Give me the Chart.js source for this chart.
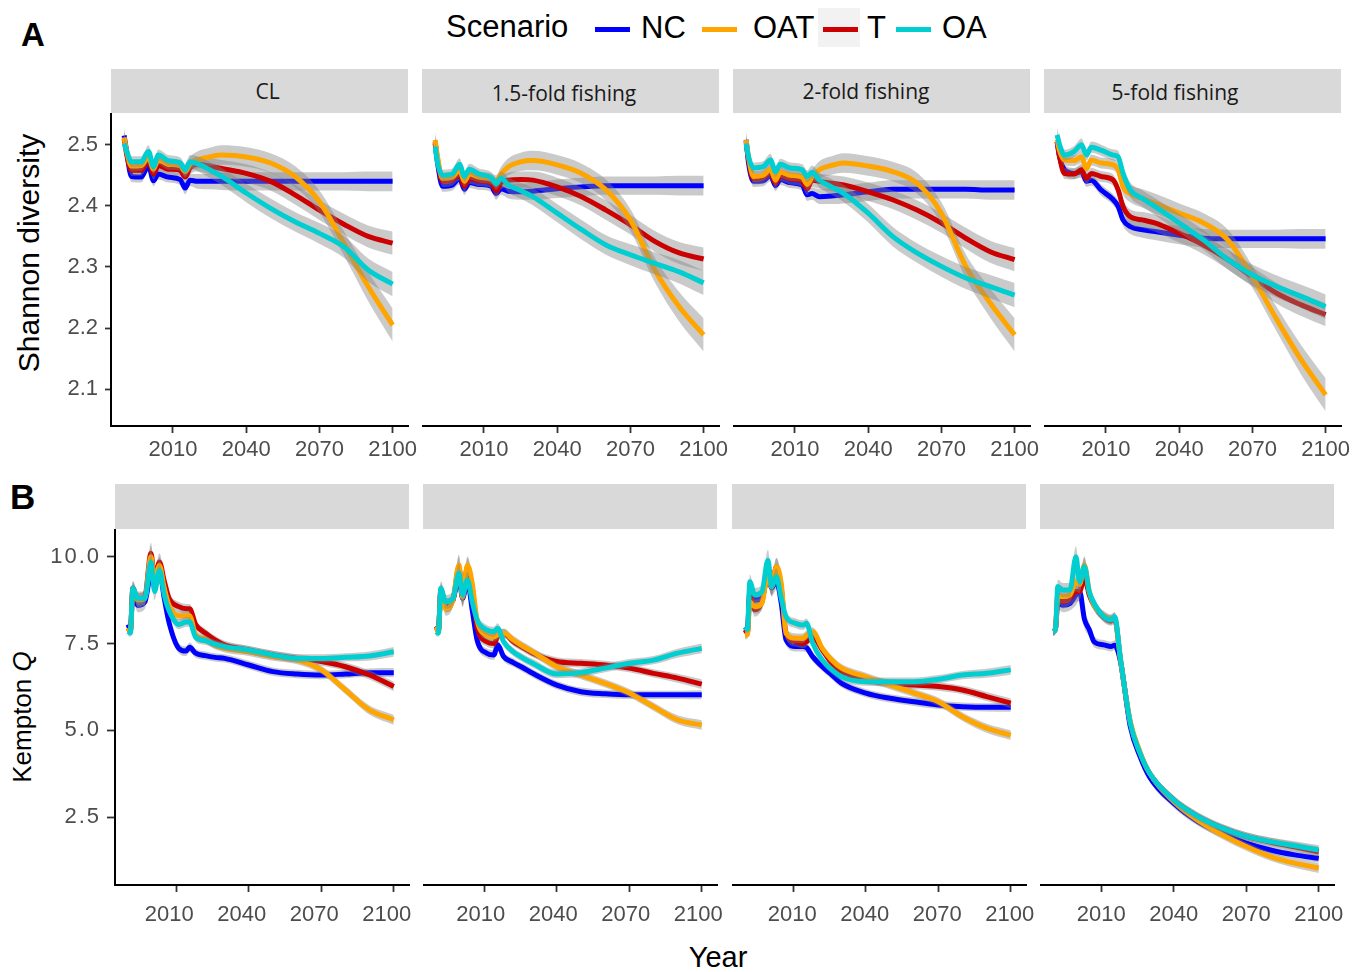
<!DOCTYPE html>
<html>
<head>
<meta charset="utf-8">
<script src="https://cdn.jsdelivr.net/npm/chart.js@4.4.1/dist/chart.umd.min.js"></script>
<style>
html,body{margin:0;padding:0;background:#fff;}
body{position:relative;width:1364px;height:972px;overflow:hidden;font-family:"Liberation Sans",Arial,sans-serif;}
.t{position:absolute;white-space:nowrap;line-height:1;}
.strip{position:absolute;background:#D9D9D9;}
.key{position:absolute;height:5px;}
canvas{position:absolute;}
</style>
</head>
<body>
<script>
// ================= DATA =================
const scenarios = ['NC', 'OAT', 'T', 'OA'];
const fishingLevels = ['CL', '1.5-fold fishing', '2-fold fishing', '5-fold fishing'];
const xTickYears = [2010, 2040, 2070, 2100];
const shannonTicks = [2.1, 2.2, 2.3, 2.4, 2.5];
const kemptonTicks = [2.5, 5.0, 7.5, 10.0];

// Shannon diversity (row A) sample years
const yearsA = [1990, 1991, 1993, 1997, 2000, 2002, 2004, 2008, 2013, 2015, 2017, 2020, 2025, 2030, 2040, 2050, 2060, 2070, 2080, 2090, 2100];
const shannonCL_NC  = [2.515, 2.490, 2.448, 2.447, 2.466, 2.441, 2.452, 2.447, 2.443, 2.429, 2.442, 2.440, 2.440, 2.440, 2.440, 2.440, 2.440, 2.440, 2.440, 2.440, 2.440];
const shannonCL_OAT = [2.512, 2.490, 2.465, 2.466, 2.480, 2.460, 2.476, 2.468, 2.466, 2.456, 2.468, 2.475, 2.480, 2.483, 2.480, 2.470, 2.448, 2.407, 2.339, 2.268, 2.205];
const shannonCL_T   = [2.510, 2.485, 2.458, 2.458, 2.475, 2.452, 2.466, 2.460, 2.458, 2.447, 2.462, 2.468, 2.465, 2.461, 2.453, 2.440, 2.418, 2.393, 2.370, 2.350, 2.339];
const shannonCL_OA  = [2.502, 2.490, 2.472, 2.472, 2.489, 2.464, 2.483, 2.474, 2.470, 2.459, 2.472, 2.469, 2.459, 2.448, 2.421, 2.396, 2.374, 2.355, 2.333, 2.295, 2.272];

const shannon15_NC  = [2.502, 2.470, 2.432, 2.434, 2.445, 2.427, 2.438, 2.435, 2.432, 2.420, 2.428, 2.424, 2.423, 2.424, 2.428, 2.431, 2.433, 2.433, 2.433, 2.433, 2.433];
const shannon15_OAT = [2.508, 2.480, 2.445, 2.447, 2.458, 2.440, 2.452, 2.447, 2.444, 2.440, 2.452, 2.464, 2.472, 2.474, 2.467, 2.453, 2.426, 2.377, 2.295, 2.235, 2.189];
const shannon15_T   = [2.505, 2.475, 2.440, 2.442, 2.452, 2.432, 2.445, 2.441, 2.438, 2.424, 2.438, 2.442, 2.443, 2.442, 2.431, 2.415, 2.393, 2.369, 2.342, 2.323, 2.313];
const shannon15_OA  = [2.497, 2.470, 2.450, 2.452, 2.468, 2.448, 2.460, 2.452, 2.446, 2.436, 2.445, 2.434, 2.425, 2.415, 2.388, 2.361, 2.336, 2.320, 2.306, 2.292, 2.274];

const shannon2_NC   = [2.508, 2.470, 2.440, 2.441, 2.450, 2.433, 2.443, 2.438, 2.434, 2.418, 2.420, 2.415, 2.416, 2.418, 2.423, 2.427, 2.427, 2.427, 2.427, 2.426, 2.426];
const shannon2_OAT  = [2.508, 2.480, 2.448, 2.450, 2.460, 2.442, 2.455, 2.450, 2.447, 2.435, 2.447, 2.459, 2.466, 2.470, 2.465, 2.456, 2.437, 2.388, 2.301, 2.241, 2.189];
const shannon2_T    = [2.505, 2.475, 2.444, 2.446, 2.455, 2.437, 2.449, 2.444, 2.440, 2.428, 2.442, 2.440, 2.437, 2.434, 2.423, 2.410, 2.393, 2.372, 2.347, 2.325, 2.312];
const shannon2_OA   = [2.502, 2.480, 2.462, 2.464, 2.475, 2.456, 2.468, 2.462, 2.459, 2.448, 2.455, 2.442, 2.431, 2.420, 2.388, 2.350, 2.323, 2.301, 2.282, 2.268, 2.254];

const shannon5_NC   = [2.505, 2.480, 2.459, 2.453, 2.456, 2.440, 2.442, 2.426, 2.410, 2.399, 2.377, 2.366, 2.361, 2.358, 2.352, 2.347, 2.346, 2.346, 2.346, 2.346, 2.346];
const shannon5_OAT  = [2.508, 2.490, 2.475, 2.474, 2.480, 2.461, 2.475, 2.470, 2.467, 2.459, 2.431, 2.420, 2.412, 2.404, 2.388, 2.372, 2.344, 2.284, 2.214, 2.148, 2.091];
const shannon5_T    = [2.505, 2.480, 2.453, 2.452, 2.459, 2.445, 2.453, 2.448, 2.442, 2.426, 2.399, 2.382, 2.377, 2.372, 2.355, 2.336, 2.312, 2.284, 2.257, 2.238, 2.222];
const shannon5_OA   = [2.516, 2.500, 2.483, 2.489, 2.500, 2.483, 2.496, 2.491, 2.483, 2.480, 2.453, 2.426, 2.412, 2.399, 2.372, 2.344, 2.312, 2.287, 2.268, 2.252, 2.235];

// ribbon half-widths, row A
const bandA_NC  = [0.012, 0.010, 0.009, 0.009, 0.010, 0.009, 0.009, 0.009, 0.009, 0.010, 0.010, 0.012, 0.013, 0.014, 0.015, 0.015, 0.015, 0.015, 0.015, 0.016, 0.016];
const bandA_OAT = [0.012, 0.010, 0.009, 0.009, 0.010, 0.009, 0.009, 0.009, 0.009, 0.010, 0.012, 0.014, 0.015, 0.016, 0.016, 0.016, 0.017, 0.018, 0.020, 0.024, 0.027];
const bandA_T   = [0.012, 0.010, 0.009, 0.009, 0.010, 0.009, 0.009, 0.009, 0.009, 0.010, 0.011, 0.012, 0.013, 0.014, 0.015, 0.015, 0.016, 0.016, 0.017, 0.018, 0.019];
const bandA_OA  = [0.012, 0.010, 0.009, 0.009, 0.010, 0.009, 0.009, 0.009, 0.009, 0.010, 0.011, 0.012, 0.013, 0.014, 0.015, 0.016, 0.016, 0.017, 0.018, 0.019, 0.020];

// Kempton Q (row B) sample years
const yearsB = [1990, 1991, 1992, 1994, 1997, 1999.5, 2001, 2003, 2005, 2007, 2011, 2014, 2015.5, 2018, 2022, 2026, 2030, 2040, 2050, 2060, 2070, 2080, 2090, 2100];
const kemptonCL_NC  = [8.05, 7.90, 9.00, 8.60, 8.70, 9.50, 9.20, 9.60, 8.80, 8.10, 7.36, 7.28, 7.39, 7.22, 7.15, 7.10, 7.07, 6.88, 6.69, 6.62, 6.59, 6.62, 6.66, 6.66];
const kemptonCL_OAT = [7.95, 7.85, 9.05, 8.75, 8.80, 10.00, 9.30, 9.75, 9.10, 8.60, 8.30, 8.30, 8.30, 7.75, 7.62, 7.45, 7.36, 7.26, 7.12, 7.02, 6.74, 6.16, 5.58, 5.30];
const kemptonCL_T   = [7.95, 7.85, 9.10, 8.75, 8.85, 10.10, 9.35, 9.85, 9.30, 8.80, 8.56, 8.50, 8.50, 8.05, 7.80, 7.60, 7.46, 7.31, 7.17, 7.07, 6.98, 6.83, 6.59, 6.26];
const kemptonCL_OA  = [7.85, 7.80, 9.10, 8.80, 8.80, 9.85, 9.00, 9.60, 8.90, 8.45, 8.05, 8.12, 8.12, 7.68, 7.58, 7.48, 7.41, 7.31, 7.17, 7.07, 7.07, 7.10, 7.14, 7.26];

const kempton15_NC  = [8.00, 7.90, 9.00, 8.60, 8.75, 9.40, 8.80, 9.30, 8.46, 7.60, 7.22, 7.17, 7.46, 7.12, 6.95, 6.80, 6.64, 6.30, 6.11, 6.05, 6.02, 6.02, 6.02, 6.02];
const kempton15_OAT = [7.98, 7.85, 9.00, 8.50, 8.75, 9.76, 8.83, 9.76, 9.23, 8.18, 7.74, 7.69, 7.75, 7.80, 7.60, 7.42, 7.26, 6.83, 6.59, 6.35, 6.07, 5.68, 5.30, 5.15];
const kempton15_T   = [7.98, 7.85, 9.05, 8.60, 8.75, 9.70, 8.83, 9.70, 9.10, 7.98, 7.55, 7.50, 7.70, 7.79, 7.55, 7.38, 7.22, 6.98, 6.93, 6.88, 6.79, 6.64, 6.50, 6.33];
const kempton15_OA  = [7.84, 7.80, 9.09, 8.70, 8.80, 9.52, 8.90, 9.33, 8.70, 8.18, 7.89, 7.84, 7.94, 7.55, 7.26, 7.08, 6.93, 6.62, 6.66, 6.79, 6.93, 7.02, 7.22, 7.36];

const kempton2_NC   = [7.98, 7.90, 9.00, 8.75, 8.80, 9.50, 9.10, 9.30, 8.66, 7.60, 7.41, 7.41, 7.38, 7.12, 6.83, 6.59, 6.35, 6.07, 5.92, 5.82, 5.73, 5.68, 5.66, 5.66];
const kempton2_OAT  = [7.74, 7.75, 8.70, 8.56, 8.66, 9.50, 9.14, 9.71, 9.23, 7.79, 7.65, 7.65, 7.74, 7.84, 7.36, 7.02, 6.79, 6.54, 6.30, 6.07, 5.82, 5.39, 5.06, 4.86];
const kempton2_T    = [7.90, 7.80, 8.90, 8.47, 8.70, 9.50, 9.14, 9.71, 9.10, 7.79, 7.55, 7.50, 7.55, 7.70, 7.31, 6.93, 6.69, 6.45, 6.35, 6.30, 6.26, 6.16, 5.97, 5.78];
const kempton2_OA   = [7.98, 7.90, 9.28, 8.90, 8.99, 9.90, 9.14, 9.42, 8.80, 8.27, 8.08, 8.03, 8.08, 7.51, 7.02, 6.74, 6.54, 6.40, 6.40, 6.40, 6.47, 6.59, 6.64, 6.74];

const kempton5_NC   = [7.85, 7.90, 8.70, 8.60, 8.65, 8.90, 9.00, 8.20, 7.90, 7.55, 7.46, 7.41, 7.45, 6.95, 5.10, 4.25, 3.65, 2.89, 2.37, 2.03, 1.75, 1.55, 1.41, 1.31];
const kempton5_OAT  = [7.85, 7.90, 8.85, 8.85, 8.90, 9.30, 9.20, 9.76, 9.00, 8.60, 8.30, 8.20, 8.25, 7.00, 5.25, 4.38, 3.76, 2.95, 2.40, 1.99, 1.65, 1.36, 1.17, 1.03];
const kempton5_T    = [7.85, 7.90, 8.90, 8.70, 8.80, 9.00, 9.00, 9.40, 8.90, 8.60, 8.25, 8.15, 8.20, 7.00, 5.20, 4.34, 3.76, 2.99, 2.51, 2.18, 1.94, 1.78, 1.64, 1.50];
const kempton5_OA   = [7.84, 7.90, 9.14, 9.04, 9.04, 10.00, 9.28, 9.71, 8.99, 8.66, 8.27, 8.18, 8.27, 7.02, 5.20, 4.34, 3.76, 2.99, 2.51, 2.18, 1.94, 1.79, 1.67, 1.55];

// ribbon half-widths, row B
const bandB_NC  = [0.12, 0.12, 0.20, 0.20, 0.20, 0.30, 0.25, 0.25, 0.20, 0.16, 0.14, 0.14, 0.14, 0.13, 0.12, 0.12, 0.12, 0.12, 0.12, 0.12, 0.12, 0.12, 0.12, 0.13];
const bandB_OAT = [0.12, 0.12, 0.20, 0.20, 0.20, 0.30, 0.25, 0.25, 0.20, 0.16, 0.14, 0.14, 0.14, 0.13, 0.12, 0.12, 0.12, 0.12, 0.12, 0.12, 0.12, 0.12, 0.13, 0.14];
const bandB_T   = [0.12, 0.12, 0.20, 0.20, 0.20, 0.30, 0.25, 0.25, 0.20, 0.16, 0.14, 0.14, 0.14, 0.13, 0.12, 0.12, 0.12, 0.12, 0.12, 0.12, 0.12, 0.12, 0.13, 0.14];
const bandB_OA  = [0.12, 0.12, 0.20, 0.20, 0.20, 0.30, 0.25, 0.25, 0.20, 0.16, 0.14, 0.14, 0.14, 0.13, 0.12, 0.12, 0.12, 0.12, 0.12, 0.12, 0.12, 0.12, 0.13, 0.14];

// ================= STYLE / LAYOUT =================
const COLORS = {NC: '#0000FF', OAT: '#FFA500', T: '#CC0000', OA: '#00CED1'};
const RIBBON = 'rgba(128,128,128,0.42)';
const DRAW_ORDER = ['NC', 'T', 'OAT', 'OA']; // bottom -> top
const X_MIN = 1984.62, X_MAX = 2106.3;

const rowA = {
  years: yearsA,
  panels: [
    {NC: shannonCL_NC, OAT: shannonCL_OAT, T: shannonCL_T, OA: shannonCL_OA},
    {NC: shannon15_NC, OAT: shannon15_OAT, T: shannon15_T, OA: shannon15_OA},
    {NC: shannon2_NC,  OAT: shannon2_OAT,  T: shannon2_T,  OA: shannon2_OA},
    {NC: shannon5_NC,  OAT: shannon5_OAT,  T: shannon5_T,  OA: shannon5_OA}
  ],
  bands: {NC: bandA_NC, OAT: bandA_OAT, T: bandA_T, OA: bandA_OA},
  yMin: 2.040, yMax: 2.5518, yTicks: shannonTicks, fmt: v => v.toFixed(1),
  top: 113, height: 313, lefts: [111, 422, 733, 1044], width: 297,
  leftPad: 52, bottomPad: 42, xPad: 4, yTickLen: 6, yPad: 7,
  labelOffsets: [0, 0, 0, 0], ls: null,
  stripTop: 69, stripH: 44, stripL: [111, 422, 733, 1044], stripW: [297, 297, 297, 297]
};
const rowB = {
  years: yearsB,
  panels: [
    {NC: kemptonCL_NC, OAT: kemptonCL_OAT, T: kemptonCL_T, OA: kemptonCL_OA},
    {NC: kempton15_NC, OAT: kempton15_OAT, T: kempton15_T, OA: kempton15_OA},
    {NC: kempton2_NC,  OAT: kempton2_OAT,  T: kempton2_T,  OA: kempton2_OA},
    {NC: kempton5_NC,  OAT: kempton5_OAT,  T: kempton5_T,  OA: kempton5_OA}
  ],
  bands: {NC: bandB_NC, OAT: bandB_OAT, T: bandB_T, OA: bandB_OA},
  yMin: 0.5415, yMax: 10.798, yTicks: kemptonTicks, fmt: v => v.toFixed(1),
  top: 529, height: 356, lefts: [115, 423, 732, 1040], width: 294,
  leftPad: 72, bottomPad: 48, xPad: 10, yTickLen: 8, yPad: 6,
  labelOffsets: [-7, -3.5, -1, 0], ls: '2px',
  stripTop: 484, stripH: 45, stripL: [115, 423, 732, 1040], stripW: [294, 294, 294, 294]
};

const spacingPlugin = {
  id: 'ySpacing',
  beforeDraw(chart, args, opts) { if (opts && opts.ls) chart.ctx.letterSpacing = opts.ls; },
  beforeDatasetsDraw(chart) { chart.ctx.letterSpacing = '0px'; }
};

function addDiv(cls, style, html) {
  const d = document.createElement('div');
  d.className = cls;
  d.setAttribute('style', style);
  if (html !== undefined) d.innerHTML = html;
  document.body.appendChild(d);
  return d;
}

function makePanel(row, p) {
  const showY = p === 0;
  const leftPad = showY ? row.leftPad : 0;
  const rightPad = 16;
  const cw = row.width + leftPad + rightPad;
  const ch = row.height + row.bottomPad;
  const cv = document.createElement('canvas');
  cv.width = cw; cv.height = ch;
  cv.style.left = (row.lefts[p] - leftPad) + 'px';
  cv.style.top = row.top + 'px';
  cv.style.width = cw + 'px'; cv.style.height = ch + 'px';
  document.body.appendChild(cv);

  const series = row.panels[p];
  const datasets = [];
  DRAW_ORDER.forEach((name, k) => {
    const vals = series[name], band = row.bands[name];
    const base = 100 - k * 10;
    datasets.push({
      label: name + ' lower', data: row.years.map((x, i) => ({x, y: vals[i] - band[i]})),
      borderWidth: 0, borderColor: 'rgba(0,0,0,0)', pointRadius: 0, fill: false,
      order: base, cubicInterpolationMode: 'monotone'
    });
    datasets.push({
      label: name + ' upper', data: row.years.map((x, i) => ({x, y: vals[i] + band[i]})),
      borderWidth: 0, borderColor: 'rgba(0,0,0,0)', pointRadius: 0, fill: '-1',
      backgroundColor: RIBBON, order: base - 1, cubicInterpolationMode: 'monotone'
    });
    datasets.push({
      label: name, data: row.years.map((x, i) => ({x, y: vals[i]})),
      borderColor: COLORS[name], borderWidth: 5, pointRadius: 0, fill: false,
      order: base - 2, cubicInterpolationMode: 'monotone', borderJoinStyle: 'round'
    });
  });

  new Chart(cv, {
    type: 'line',
    data: {datasets},
    plugins: [spacingPlugin],
    options: {
      responsive: false, animation: false, devicePixelRatio: 1,
      events: [],
      layout: {padding: {left: 0, right: rightPad, top: 0, bottom: 0}},
      plugins: {legend: {display: false}, tooltip: {enabled: false}, ySpacing: {ls: showY ? row.ls : null}},
      scales: {
        x: {
          type: 'linear', min: X_MIN, max: X_MAX,
          afterBuildTicks: s => { s.ticks = xTickYears.map(v => ({value: v})); },
          afterFit: s => { s.height = row.bottomPad; s.paddingLeft = 0; s.paddingRight = 0; },
          ticks: {
            callback: v => String(v), autoSkip: false, maxRotation: 0, minRotation: 0,
            font: {family: 'Liberation Sans', size: 22}, color: '#4D4D4D',
            padding: row.xPad, labelOffset: row.labelOffsets[p], z: 1
          },
          grid: {drawOnChartArea: false, drawTicks: true, tickLength: 7, tickColor: '#333333', tickWidth: 1.8},
          border: {display: true, color: '#000000', width: 2}
        },
        y: {
          type: 'linear', display: showY, min: row.yMin, max: row.yMax,
          afterBuildTicks: s => { s.ticks = row.yTicks.map(v => ({value: v})); },
          afterFit: s => { s.width = leftPad; s.paddingTop = 0; s.paddingBottom = 0; },
          ticks: {
            callback: v => row.fmt(v), autoSkip: false,
            font: {family: 'Liberation Sans', size: 22}, color: '#4D4D4D', padding: row.yPad
          },
          grid: {drawOnChartArea: false, drawTicks: true, tickLength: row.yTickLen, tickColor: '#333333', tickWidth: 1.8},
          border: {display: true, color: '#000000', width: 2}
        }
      }
    }
  });
}

// strips
[rowA, rowB].forEach((row) => {
  for (let p = 0; p < 4; p++) {
    addDiv('strip', `left:${row.stripL[p]}px;top:${row.stripTop}px;width:${row.stripW[p]}px;height:${row.stripH}px;`);
  }
});
// strip labels (row A only)
const stripCenters = [267.5, 564, 866, 1175];
const stripYs = [91, 92.5, 90.5, 91.5];
fishingLevels.forEach((lab, p) => {
  addDiv('t', `left:${stripCenters[p]}px;top:${stripYs[p]}px;transform:translate(-50%,-50%);font-family:'Open Sans';font-size:21px;color:#1A1A1A;`, lab);
});

for (let p = 0; p < 4; p++) makePanel(rowA, p);
for (let p = 0; p < 4; p++) makePanel(rowB, p);

// panel letters
addDiv('t', 'left:21px;top:34px;transform:translateY(-50%);font-weight:bold;font-size:33px;color:#000;', 'A');
addDiv('t', 'left:10px;top:496px;transform:translateY(-50%);font-weight:bold;font-size:35px;color:#000;', 'B');

// axis titles
addDiv('t', 'left:28.5px;top:253px;transform:translate(-50%,-50%) rotate(-90deg);font-size:30px;color:#000;', 'Shannon diversity');
addDiv('t', 'left:22px;top:717px;transform:translate(-50%,-50%) rotate(-90deg);font-size:26px;color:#000;', 'Kempton <i>Q</i>');
addDiv('t', 'left:718px;top:957px;transform:translate(-50%,-50%);font-size:29px;color:#000;', 'Year');

// legend
addDiv('t', 'left:446px;top:25.5px;transform:translateY(-50%);font-size:31px;color:#000;', 'Scenario');
addDiv('key', 'left:818px;top:8px;width:42px;height:39px;background:#F2F2F2;');
const keyLefts = {NC: 595, OAT: 702, T: 823, OA: 896};
const labLefts = {NC: 641, OAT: 753, T: 867, OA: 942};
scenarios.forEach(s => {
  addDiv('key', `left:${keyLefts[s]}px;top:27px;width:35px;height:5px;background:${COLORS[s]};`);
  addDiv('t', `left:${labLefts[s]}px;top:26.5px;transform:translateY(-50%);font-size:31px;color:#000;`, s);
});
</script>
</body>
</html>
